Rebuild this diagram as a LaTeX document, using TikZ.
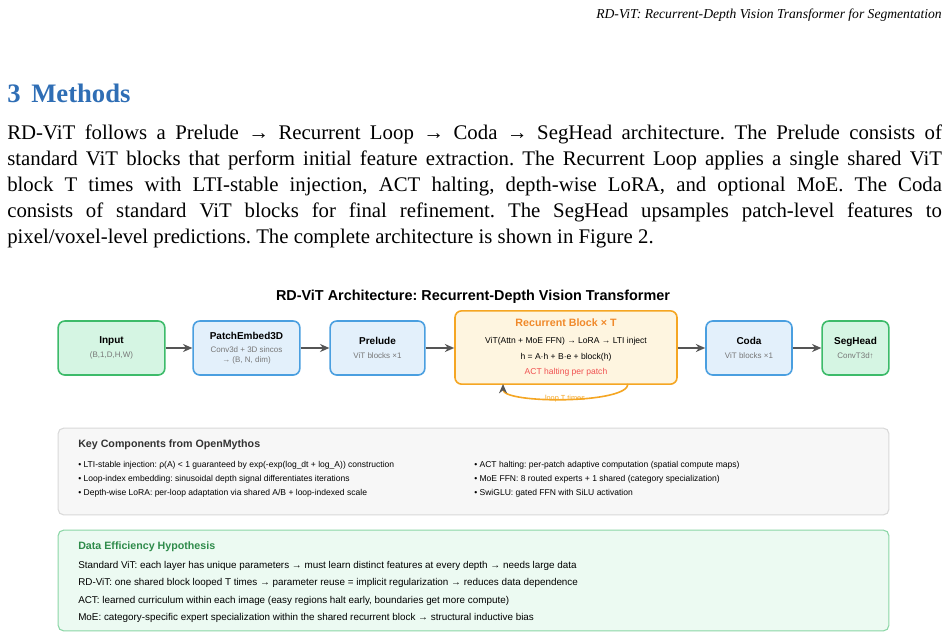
\documentclass[tikz,border=0pt]{standalone}
\usepackage{fontspec}
\setmainfont{Liberation Serif}
\newfontfamily\dsans{Liberation Sans}
\usetikzlibrary{arrows.meta}
\definecolor{gB}{HTML}{3DBB6A}\definecolor{gF}{HTML}{D5F5E3}
\definecolor{bB}{HTML}{4A9FE0}\definecolor{bF}{HTML}{E3F0FB}
\definecolor{oB}{HTML}{F5A623}\definecolor{oF}{HTML}{FEF5E0}
\definecolor{oT}{HTML}{F0892A}\definecolor{rT}{HTML}{F05050}
\definecolor{hd}{HTML}{2F6EB5}\definecolor{gry}{HTML}{777777}
\definecolor{arr}{HTML}{555555}\definecolor{dg}{HTML}{2E8B4A}
\tikzset{
 box/.style={draw,line width=1.2pt,rounded corners=5pt,align=center,inner sep=0pt,font=\dsans\fontsize{6pt}{7.5pt}\selectfont},
 gbox/.style={box,draw=gB,fill=gF},
 bbox/.style={box,draw=bB,fill=bF},
 obox/.style={box,draw=oB,fill=oF},
 conn/.style={-{Stealth[length=7pt,width=6pt]},draw=arr,line width=1.3pt},
 para/.style={anchor=base west,inner sep=0pt,font=\fontsize{15.6pt}{17pt}\selectfont},
 small/.style={font=\dsans\fontsize{6.4pt}{8pt}\selectfont,anchor=base west,inner sep=0pt},
}
\newcommand{\bt}[1]{{\dsans\bfseries\fontsize{7.5pt}{9pt}\selectfont #1}}
\newcommand{\bs}[1]{{\dsans\fontsize{6pt}{8pt}\selectfont\color{gry}#1}}
\frenchspacing
\begin{document}
\begin{tikzpicture}[x=0.75pt,y=-0.75pt]
\useasboundingbox[fill=white] (0,0) rectangle (949,639);
\node[anchor=base east,inner sep=0pt,font=\itshape\fontsize{10.2pt}{12pt}\selectfont] (hdr) at (942,18) {RD-ViT: Recurrent-Depth Vision Transformer for Segmentation};
\node[anchor=base west,inner sep=0pt,font=\bfseries\fontsize{20pt}{24pt}\selectfont,text=hd] (sec) at (7,102) {3\hspace{8pt}Methods};
\node[para] (p1) at (7,139) {\hbox to 701pt{RD-ViT follows a Prelude → Recurrent Loop → Coda → SegHead architecture. The Prelude consists of}};
\node[para] (p2) at (7,165) {\hbox to 701pt{standard ViT blocks that perform initial feature extraction. The Recurrent Loop applies a single shared ViT}};
\node[para] (p3) at (7,191) {\hbox to 701pt{block T times with LTI-stable injection, ACT halting, depth-wise LoRA, and optional MoE. The Coda}};
\node[para] (p4) at (7,217) {\hbox to 701pt{consists of standard ViT blocks for final refinement. The SegHead upsamples patch-level features to}};
\node[para] (p5) at (7,243) {pixel/voxel-level predictions. The complete architecture is shown in Figure 2.};
\node[font=\dsans\bfseries\fontsize{10.8pt}{12pt}\selectfont,inner sep=0pt] (ttl) at (473,297) {RD-ViT Architecture: Recurrent-Depth Vision Transformer};
% boxes
\node[gbox,minimum width=80pt,minimum height=40.5pt] (in) at (111.5,348) {\bt{Input}\\[3pt]\bs{(B,1,D,H,W)}};
\node[bbox,minimum width=80pt,minimum height=40.5pt] (pe) at (246.5,348) {\bt{PatchEmbed3D}\\[2pt]\bs{Conv3d + 3D sincos}\\\bs{→ (B, N, dim)}};
\node[bbox,minimum width=71pt,minimum height=40.5pt] (pr) at (377.5,348) {\bt{Prelude}\\[3pt]\bs{ViT blocks ×1}};
\node[obox,minimum width=166.5pt,minimum height=55pt,font=\dsans\fontsize{6.4pt}{9pt}\selectfont] (rb) at (566,347.5) {{\bfseries\fontsize{8pt}{9pt}\selectfont\color{oT}Recurrent Block × T}\\[4pt]ViT(Attn + MoE FFN) → LoRA → LTI inject\\[2.5pt]h = A·h + B·e + block(h)\\[2.5pt]{\color{rT}ACT halting per patch}};
\node[bbox,minimum width=64.5pt,minimum height=40.5pt] (co) at (749,348) {\bt{Coda}\\[3pt]\bs{ViT blocks ×1}};
\node[gbox,minimum width=50pt,minimum height=40.5pt] (sh) at (855.5,348) {\bt{SegHead}\\[3pt]\bs{ConvT3d↑}};
\draw[conn] (in) -- (pe);
\draw[conn] (pe) -- (pr);
\draw[conn] (pr) -- (rb.west|-pr);
\draw[conn] (rb.east|-co) -- (co);
\draw[conn] (co) -- (sh);
\coordinate (lpS) at (628,384);
\coordinate (lpE) at (503,384);
\draw[draw=oB,line width=1.2pt,-{Stealth[length=7pt,width=6pt,color=arr]}] (lpS) .. controls (628,404) and (503,404) .. (lpE);
\node[font=\dsans\fontsize{5.5pt}{6pt}\selectfont,text=oB,inner sep=0pt] (lpl) at (565,399) {loop T times};
% key components
\node[draw=black!15,fill=black!3,rounded corners=4pt,line width=0.8pt,minimum width=623pt,minimum height=65pt,inner sep=0pt] (kc) at (473.5,471.5) {};
\node[anchor=base west,inner sep=0pt,font=\dsans\bfseries\fontsize{8pt}{9pt}\selectfont,text=black!80] (kct) at (78,447) {Key Components from OpenMythos};
\node[small] (k1) at (78,467) {• LTI-stable injection: ρ(A) < 1 guaranteed by exp(-exp(log\_dt + log\_A)) construction};
\node[small] (k2) at (78,481) {• Loop-index embedding: sinusoidal depth signal differentiates iterations};
\node[small] (k3) at (78,495) {• Depth-wise LoRA: per-loop adaptation via shared A/B + loop-indexed scale};
\node[small] (k4) at (474,467) {• ACT halting: per-patch adaptive computation (spatial compute maps)};
\node[small] (k5) at (474,481) {• MoE FFN: 8 routed experts + 1 shared (category specialization)};
\node[small] (k6) at (474,495) {• SwiGLU: gated FFN with SiLU activation};
% data efficiency
\node[draw=gB!60,fill=gF!45,rounded corners=4pt,line width=0.8pt,minimum width=623pt,minimum height=75.5pt,inner sep=0pt] (de) at (473.5,580.5) {};
\node[anchor=base west,inner sep=0pt,font=\dsans\bfseries\fontsize{8pt}{9pt}\selectfont,text=dg] (det) at (78,549) {Data Efficiency Hypothesis};
\node[small,font=\dsans\fontsize{7.4pt}{9pt}\selectfont] (d1) at (78,568) {Standard ViT: each layer has unique parameters → must learn distinct features at every depth → needs large data};
\node[small,font=\dsans\fontsize{7.4pt}{9pt}\selectfont] (d2) at (78,585) {RD-ViT: one shared block looped T times → parameter reuse = implicit regularization → reduces data dependence};
\node[small,font=\dsans\fontsize{7.4pt}{9pt}\selectfont] (d3) at (78,603) {ACT: learned curriculum within each image (easy regions halt early, boundaries get more compute)};
\node[small,font=\dsans\fontsize{7.4pt}{9pt}\selectfont] (d4) at (78,620) {MoE: category-specific expert specialization within the shared recurrent block → structural inductive bias};
\end{tikzpicture}
\end{document}
